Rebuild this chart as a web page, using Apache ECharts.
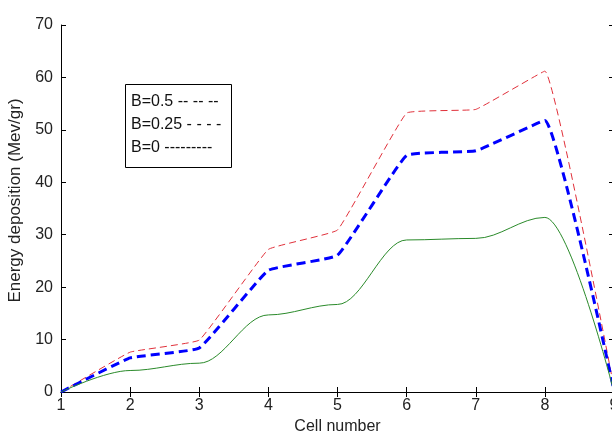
<!DOCTYPE html>
<html><head><meta charset="utf-8">
<script src="https://cdn.jsdelivr.net/npm/echarts@6/dist/echarts.min.js"></script>
<style>html,body{margin:0;padding:0;background:#fff}#c{width:612px;height:435px}</style>
</head><body><div id="c"></div>
<script>
const cells = [1, 2, 3, 4, 5, 6, 7, 8, 9];
const b05 = [0, 7.6, 9.9, 27.2, 30.9, 53.2, 53.9, 61.2, 0.8];
const b025 = [0, 6.5, 8.4, 23.2, 26.1, 45.1, 46.0, 51.8, 0.3];
const b0 = [0, 4.1, 5.5, 14.7, 16.7, 29.0, 29.3, 33.3, 0];
const yTicks = [0, 10, 20, 30, 40, 50, 60, 70];
const legendLines = ['B=0.5 -- -- --', 'B=0.25 - - - -', 'B=0 ---------'];

const pair = (ys) => cells.map((x, i) => [x, ys[i]]);
const font = 'Liberation Sans, Arial, sans-serif';
const axisCommon = {
  axisLine: { show: true, lineStyle: { color: '#000', width: 1 } },
  axisTick: { show: true, inside: true, length: 5, lineStyle: { color: '#000' } },
  splitLine: { show: false },
  axisLabel: { color: '#222', fontSize: 16, fontFamily: font }
};
const chart = echarts.init(document.getElementById('c'));
chart.setOption({
  animation: false,
  grid: { left: 61, top: 25, width: 553, height: 367, outerBoundsMode: 'none', containLabel: false },
  xAxis: [
    Object.assign({}, axisCommon, {
      type: 'value', min: 1, max: 9, interval: 1,
      name: 'Cell number', nameLocation: 'middle', nameGap: 27,
      nameTextStyle: { color: '#222', fontSize: 16, fontFamily: font },
      axisLabel: Object.assign({}, axisCommon.axisLabel, { margin: 6 })
    }),
    Object.assign({}, axisCommon, {
      type: 'value', min: 1, max: 9, interval: 1, position: 'top',
      axisLabel: { show: false }
    })
  ],
  yAxis: [
    Object.assign({}, axisCommon, {
      type: 'value', min: yTicks[0], max: yTicks[yTicks.length - 1], interval: 10,
      name: 'Energy deposition (Mev/gr)', nameLocation: 'middle', nameGap: 35,
      nameTextStyle: { color: '#222', fontSize: 17, fontFamily: font, padding: [0, 0, 0, 16] },
      axisLabel: Object.assign({}, axisCommon.axisLabel, { margin: 8 })
    }),
    Object.assign({}, axisCommon, {
      type: 'value', min: 0, max: 70, interval: 10, position: 'right',
      axisLabel: { show: false }
    })
  ],
  series: [
    { name: 'B=0.5', type: 'line', data: pair(b05), showSymbol: false, smooth: 0.08,
      lineStyle: { color: '#e0303a', width: 1, type: [7, 4] } },
    { name: 'B=0.25', type: 'line', data: pair(b025), showSymbol: false, smooth: 0.1,
      lineStyle: { color: '#0000ff', width: 3, type: [9, 5] } },
    { name: 'B=0', type: 'line', data: pair(b0), showSymbol: false, smooth: 0.35, smoothMonotone: 'x',
      lineStyle: { color: '#2a8a2a', width: 1 } }
  ],
  graphic: [
    { type: 'rect', left: 125, top: 84, shape: { width: 106, height: 83 },
      style: { fill: '#fff', stroke: '#000', lineWidth: 1 } },
    ...legendLines.map((t, i) => ({
      type: 'text', left: 131, top: 94 + i * 23,
      style: { text: t, fill: '#111', font: '16px ' + font }
    }))
  ]
});
</script></body></html>
